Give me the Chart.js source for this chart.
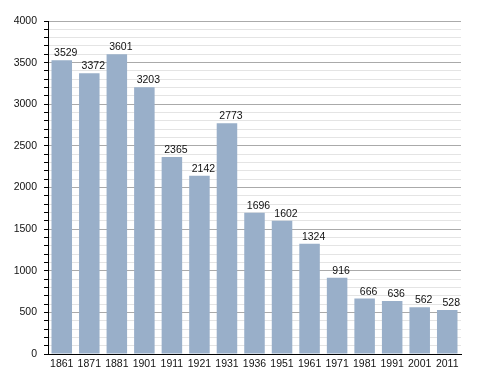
<!DOCTYPE html>
<html>
<head>
<meta charset="utf-8">
<script src="https://cdn.jsdelivr.net/npm/chart.js@4/dist/chart.umd.min.js"></script>
<style>
html,body{margin:0;padding:0;background:#fff;}
canvas{display:block;}
</style>
</head>
<body>
<canvas id="c" width="488" height="373"></canvas>
<script>
const years = ["1861","1871","1881","1901","1911","1921","1931","1936","1951","1961","1971","1981","1991","2001","2011"];
const population = [3529,3372,3601,3203,2365,2142,2773,1696,1602,1324,916,666,636,562,528];
const yMin = 0, yMax = 4000, yStep = 100, yLabelStep = 500;

const FONT = "'Liberation Sans', Arial, sans-serif";

const valueLabels = {
  id: 'valueLabels',
  afterDatasetsDraw(chart) {
    const ctx = chart.ctx;
    const meta = chart.getDatasetMeta(0);
    ctx.save();
    ctx.font = "10.5px " + FONT;
    ctx.fillStyle = "#111";
    ctx.textAlign = "center";
    ctx.textBaseline = "alphabetic";
    meta.data.forEach((bar, i) => {
      ctx.fillText(String(chart.data.datasets[0].data[i]), bar.x + 4, bar.y - 4);
    });
    ctx.restore();
  }
};

new Chart(document.getElementById('c'), {
  type: 'bar',
  data: {
    labels: years,
    datasets: [{
      data: population,
      backgroundColor: '#99afc9',
      borderWidth: 0,
      categoryPercentage: 1,
      barPercentage: 0.745
    }]
  },
  options: {
    responsive: false,
    animation: false,
    devicePixelRatio: 1,
    layout: { padding: { top: 21, right: 27, left: 0, bottom: 0 } },
    plugins: { legend: { display: false }, tooltip: { enabled: false } },
    scales: {
      x: {
        grid: { display: false, drawTicks: false },
        border: { display: true, color: '#000', width: 1 },
        ticks: { color: '#111', font: { family: FONT, size: 10.5 }, padding: 4, maxRotation: 0, autoSkip: false },
        afterFit(s) { s.height = 19; }
      },
      y: {
        min: yMin, max: yMax,
        grid: {
          color: (c) => (c.tick && c.tick.value % yLabelStep === 0) ? '#aaaaaa' : '#e4e4e4',
          tickColor: '#000',
          tickLength: 4,
          drawTicks: true
        },
        border: { display: true, color: '#000', width: 1 },
        ticks: {
          stepSize: yStep,
          autoSkip: false,
          color: '#111',
          font: { family: FONT, size: 10.5 },
          padding: 7,
          callback: (v) => (v % yLabelStep === 0) ? String(v) : ''
        },
        afterFit(s) { s.width = 48; }
      }
    }
  },
  plugins: [valueLabels]
});
</script>
</body>
</html>
